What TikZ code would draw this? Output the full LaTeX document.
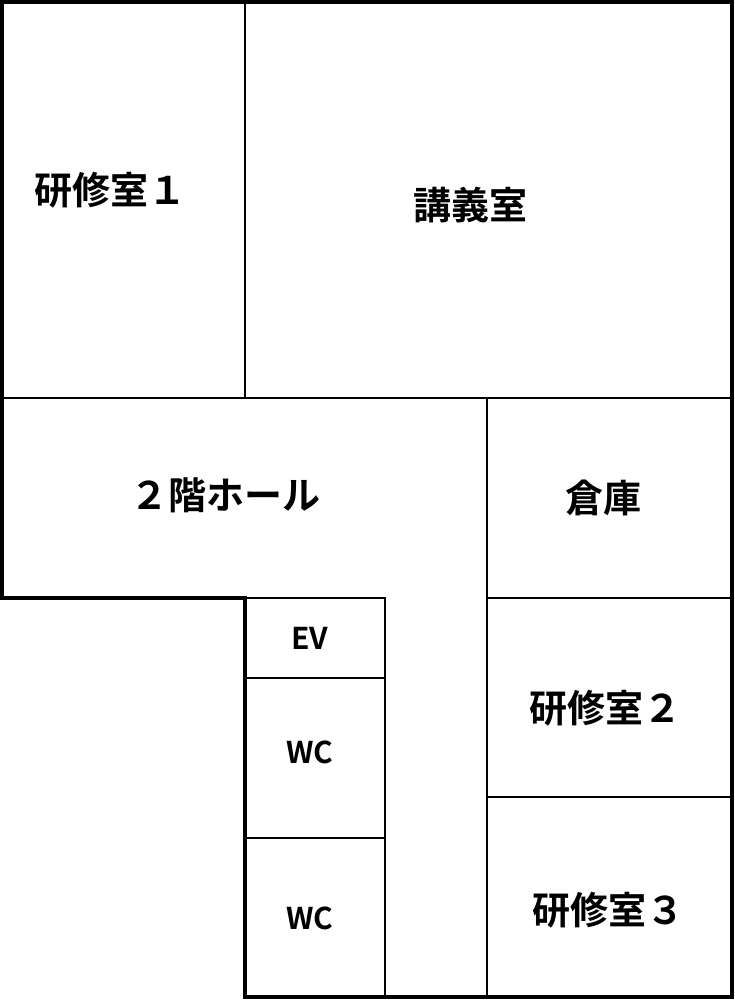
\documentclass[tikz,border=0pt]{standalone}
\usepackage{fontspec}
\newfontfamily\cjk{Noto Sans CJK JP}[BoldFont={* Bold}]
\begin{document}
\begin{tikzpicture}[x=1pt,y=-1pt,
  wall/.style={line width=3.5pt},
  thin/.style={line width=1.8pt},
  lbl/.style={font=\cjk\bfseries\fontsize{38}{42}\selectfont}]
\useasboundingbox (0,0) rectangle (734,1000);
\draw[thin] (245,2) -- (245,398);
\draw[thin] (2,398) -- (732,398);
\draw[thin] (487,398) -- (487,997);
\draw[thin] (487,598) -- (732,598);
\draw[thin] (487,797) -- (732,797);
\draw[thin] (245,598) -- (385,598) -- (385,997);
\draw[thin] (245,678) -- (385,678);
\draw[thin] (245,838) -- (385,838);
\draw[wall] (2,2) -- (732,2) -- (732,997) -- (245,997) -- (245,598) -- (2,598) -- cycle;
\node[lbl] (r1) at (110,190) {研修室１};
\node[lbl] (lec) at (470,205) {講義室};
\node[lbl] (hall) at (225,495) {２階ホール};
\node[lbl] (st) at (603,498) {倉庫};
\node[lbl,font=\cjk\bfseries\fontsize{30}{34}\selectfont] (ev) at (310,638) {EV};
\node[lbl,font=\cjk\bfseries\fontsize{30}{34}\selectfont] (wc1) at (310,752) {WC};
\node[lbl,font=\cjk\bfseries\fontsize{30}{34}\selectfont] (wc2) at (310,918) {WC};
\node[lbl] (r2) at (605,708) {研修室２};
\node[lbl] (r3) at (608,910) {研修室３};
\end{tikzpicture}
\end{document}
